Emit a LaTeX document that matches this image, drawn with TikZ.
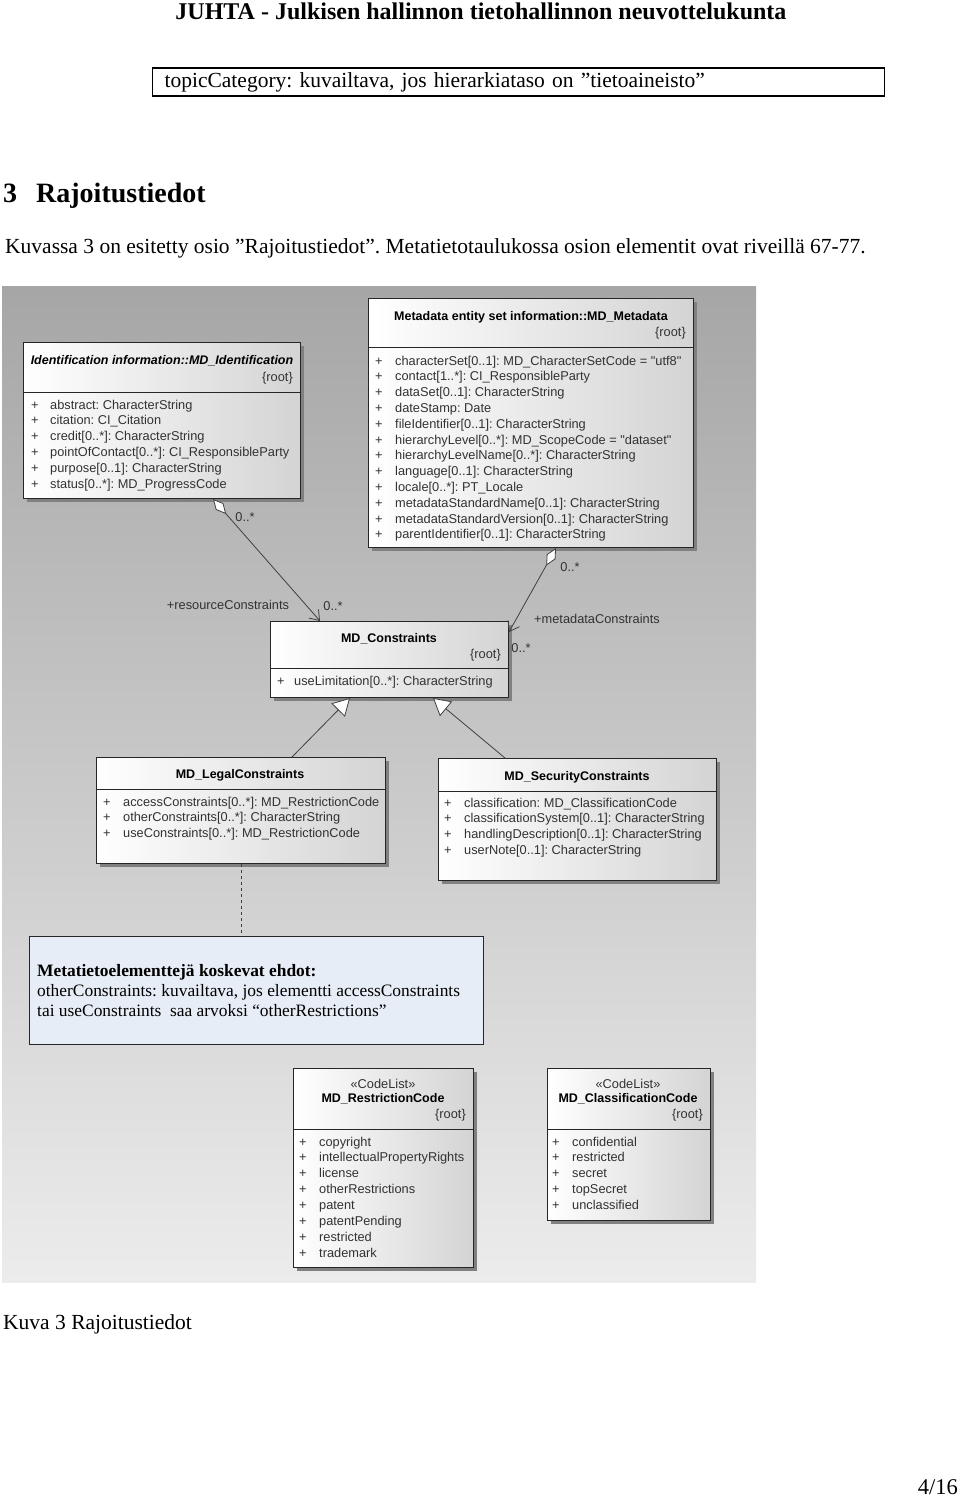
\documentclass[tikz,border=0pt]{standalone}
\usepackage{fontspec}
\setmainfont{Liberation Serif}
\newfontfamily\umlfont{Liberation Sans}
\usepackage{tikz}
\usetikzlibrary{arrows.meta, calc, shadows}
\frenchspacing
\definecolor{bgtop}{RGB}{166,166,166}
\definecolor{bgbot}{RGB}{236,236,236}
\definecolor{notefill}{RGB}{231,237,246}
\definecolor{umltext}{RGB}{50,50,50}
\tikzstyle{umlclass}=[draw=black!85, line width=1pt, rectangle, inner sep=0pt, anchor=north west, left color=white, right color=black!17, drop shadow={shadow xshift=3pt, shadow yshift=-3pt, fill=black!50, opacity=1}]
\tikzstyle{umltitle}=[font=\umlfont\bfseries\fontsize{12.5}{14}\selectfont, inner sep=0pt]
\tikzstyle{umlroot}=[font=\umlfont\fontsize{12.8}{14}\selectfont, text=umltext, inner sep=0pt, anchor=east]
\tikzstyle{umlattr}=[font=\umlfont\fontsize{12.8}{15.9}\selectfont, text=umltext, inner sep=0pt, anchor=base west]
\tikzstyle{umllabel}=[font=\umlfont\fontsize{12.8}{14}\selectfont, text=umltext, inner sep=0pt]
\tikzstyle{umlline}=[draw=black!85, line width=1pt]
\tikzstyle{assoc}=[draw=black!75, line width=0.8pt, {Diamond[fill=white,length=20pt,width=10pt]}-{Straight Barb[length=9pt,width=13pt]}]
\tikzstyle{gen}=[draw=black!75, line width=0.8pt, -{Triangle[fill=white,length=17pt,width=19pt]}]
\tikzstyle{every node}=[font=\fontsize{21.5}{25}\selectfont]

\begin{document}
\begin{tikzpicture}[x=1pt,y=-1pt]
    \useasboundingbox (0,0) rectangle (960,1497);

    % page text
    \node[font=\bfseries\fontsize{24}{28}\selectfont] (juhta) at (481,11) {JUHTA - Julkisen hallinnon tietohallinnon neuvottelukunta};
    \node[draw, line width=1.2pt, anchor=west, minimum height=28pt, inner xsep=12pt, text width=708pt, align=left] (topic) at (152,82) {topicCategory: kuvailtava, jos hierarkiataso on ”tietoaineisto”};
    \node[anchor=base west, inner sep=0pt, font=\bfseries\fontsize{28}{32}\selectfont] (sec) at (3,202) {3\hspace{19pt}Rajoitustiedot};
    \node[anchor=base west, inner sep=0pt] (intro) at (5,253) {Kuvassa 3 on esitetty osio ”Rajoitustiedot”. Metatietotaulukossa osion elementit ovat riveillä 67-77.};

    % diagram background
    \shade[top color=bgtop, bottom color=bgbot] (2,286) rectangle (756,1282);

    % MD_Identification
    \node[umlclass, minimum width=277pt, minimum height=156pt] (ident) at (23,342) {};
    \draw[umlline] (ident.west |- 0,392) -- (ident.east |- 0,392);
    \node[umltitle, font=\umlfont\bfseries\itshape\fontsize{12.5}{14}\selectfont] (identT) at (162,361) {Identification information::MD\_Identification};
    \node[umlroot] (identR) at (293,378) {\{root\}};
    \node[umlattr] (identA) at (31,409) {\begin{tabular}[t]{@{}p{19pt}@{}l@{}}
        + & abstract: CharacterString \\
        + & citation: CI\_Citation \\
        + & credit[0..*]: CharacterString \\
        + & pointOfContact[0..*]: CI\_ResponsibleParty \\
        + & purpose[0..1]: CharacterString \\
        + & status[0..*]: MD\_ProgressCode
    \end{tabular}};

    % MD_Metadata
    \node[umlclass, minimum width=325pt, minimum height=249pt] (meta) at (368,298) {};
    \draw[umlline] (meta.west |- 0,347) -- (meta.east |- 0,347);
    \node[umltitle] (metaT) at (531,317) {Metadata entity set information::MD\_Metadata};
    \node[umlroot] (metaR) at (686,333) {\{root\}};
    \node[umlattr, font=\umlfont\fontsize{12.8}{15.8}\selectfont] (metaA) at (375,365) {\begin{tabular}[t]{@{}p{20pt}@{}l@{}}
        + & characterSet[0..1]: MD\_CharacterSetCode = "utf8" \\
        + & contact[1..*]: CI\_ResponsibleParty \\
        + & dataSet[0..1]: CharacterString \\
        + & dateStamp: Date \\
        + & fileIdentifier[0..1]: CharacterString \\
        + & hierarchyLevel[0..*]: MD\_ScopeCode = "dataset" \\
        + & hierarchyLevelName[0..*]: CharacterString \\
        + & language[0..1]: CharacterString \\
        + & locale[0..*]: PT\_Locale \\
        + & metadataStandardName[0..1]: CharacterString \\
        + & metadataStandardVersion[0..1]: CharacterString \\
        + & parentIdentifier[0..1]: CharacterString
    \end{tabular}};

    % MD_Constraints
    \node[umlclass, minimum width=238pt, minimum height=76pt] (cst) at (270,621) {};
    \draw[umlline] (cst.west |- 0,668) -- (cst.east |- 0,668);
    \node[umltitle] (cstT) at (389,639) {MD\_Constraints};
    \node[umlroot] (cstR) at (501,655) {\{root\}};
    \node[umlattr] (cstA) at (277,685) {\begin{tabular}[t]{@{}p{17pt}@{}l@{}}
        + & useLimitation[0..*]: CharacterString
    \end{tabular}};

    % MD_LegalConstraints
    \node[umlclass, minimum width=289pt, minimum height=106pt] (legal) at (96,757) {};
    \draw[umlline] (legal.west |- 0,789) -- (legal.east |- 0,789);
    \node[umltitle] (legalT) at (240,775) {MD\_LegalConstraints};
    \node[umlattr] (legalA) at (103,806) {\begin{tabular}[t]{@{}p{20pt}@{}l@{}}
        + & accessConstraints[0..*]: MD\_RestrictionCode \\
        + & otherConstraints[0..*]: CharacterString \\
        + & useConstraints[0..*]: MD\_RestrictionCode
    \end{tabular}};

    % MD_SecurityConstraints
    \node[umlclass, minimum width=278pt, minimum height=122pt] (secur) at (438,758) {};
    \draw[umlline] (secur.west |- 0,791) -- (secur.east |- 0,791);
    \node[umltitle] (securT) at (577,777) {MD\_SecurityConstraints};
    \node[umlattr] (securA) at (444,807) {\begin{tabular}[t]{@{}p{20pt}@{}l@{}}
        + & classification: MD\_ClassificationCode \\
        + & classificationSystem[0..1]: CharacterString \\
        + & handlingDescription[0..1]: CharacterString \\
        + & userNote[0..1]: CharacterString
    \end{tabular}};

    % note
    \node[draw=black!85, line width=1pt, fill=notefill, anchor=north west, minimum width=454pt, minimum height=108pt] (note) at (29,936) {};
    \node[anchor=base west, inner sep=0pt, align=left, font=\fontsize{17.4}{20}\selectfont] (noteT) at (37,1016) {\textbf{Metatietoelementtejä koskevat ehdot:}\\
        otherConstraints: kuvailtava, jos elementti accessConstraints\\
        tai useConstraints\ \ saa arvoksi “otherRestrictions”};

    % MD_RestrictionCode
    \node[umlclass, minimum width=180pt, minimum height=199pt] (restr) at (293,1068) {};
    \draw[umlline] (restr.west |- 0,1129) -- (restr.east |- 0,1129);
    \node[umllabel] (restrS) at (383,1084) {«CodeList»};
    \node[umltitle] (restrT) at (383,1099) {MD\_RestrictionCode};
    \node[umlroot] (restrR) at (466,1115) {\{root\}};
    \node[umlattr] (restrA) at (299,1146) {\begin{tabular}[t]{@{}p{20pt}@{}l@{}}
        + & copyright \\
        + & intellectualPropertyRights \\
        + & license \\
        + & otherRestrictions \\
        + & patent \\
        + & patentPending \\
        + & restricted \\
        + & trademark
    \end{tabular}};

    % MD_ClassificationCode
    \node[umlclass, minimum width=163pt, minimum height=152pt] (classif) at (547,1068) {};
    \draw[umlline] (classif.west |- 0,1129) -- (classif.east |- 0,1129);
    \node[umllabel] (classifS) at (628,1084) {«CodeList»};
    \node[umltitle] (classifT) at (628,1099) {MD\_ClassificationCode};
    \node[umlroot] (classifR) at (703,1115) {\{root\}};
    \node[umlattr] (classifA) at (552,1146) {\begin{tabular}[t]{@{}p{20pt}@{}l@{}}
        + & confidential \\
        + & restricted \\
        + & secret \\
        + & topSecret \\
        + & unclassified
    \end{tabular}};

    % connectors
    \coordinate (identAgg) at ($(ident.south west)+(190,0)$);
    \coordinate (cstIn) at ($(cst.north west)+(50,0)$);
    \coordinate (metaAgg) at ($(meta.south west)+(188,0)$);
    \coordinate (cstInR) at ($(cst.north east)+(0,11)$);
    \coordinate (legalUp) at ($(legal.north west)+(196,0)$);
    \coordinate (securUp) at ($(secur.north west)+(67,0)$);
    \coordinate (cstGenL) at ($(cst.south west)+(80,0)$);
    \coordinate (cstGenR) at ($(cst.south west)+(163,0)$);
    \draw[assoc] (identAgg) -- (cstIn);
    \draw[assoc] (metaAgg) -- (cstInR);
    \draw[gen] (legalUp) -- (cstGenL);
    \draw[gen] (securUp) -- (cstGenR);
    \draw[draw=black!75, line width=0.8pt, dashed] (legal.south) -- (legal.south |- note.north);

    \node[umllabel] (m1) at (245,517) {0..*};
    \node[umllabel] (r1) at (228,605) {+resourceConstraints};
    \node[umllabel] (m2) at (333,606) {0..*};
    \node[umllabel] (m3) at (570,567) {0..*};
    \node[umllabel] (r2) at (597,619) {+metadataConstraints};
    \node[umllabel] (m4) at (521,648) {0..*};

    % caption and page number
    \node[anchor=base west, inner sep=0pt] (caption) at (3,1329) {Kuva 3 Rajoitustiedot};
    \node[anchor=base east, inner sep=0pt, font=\fontsize{22.5}{26}\selectfont] (page) at (958,1494) {4/16};
\end{tikzpicture}
\end{document}
